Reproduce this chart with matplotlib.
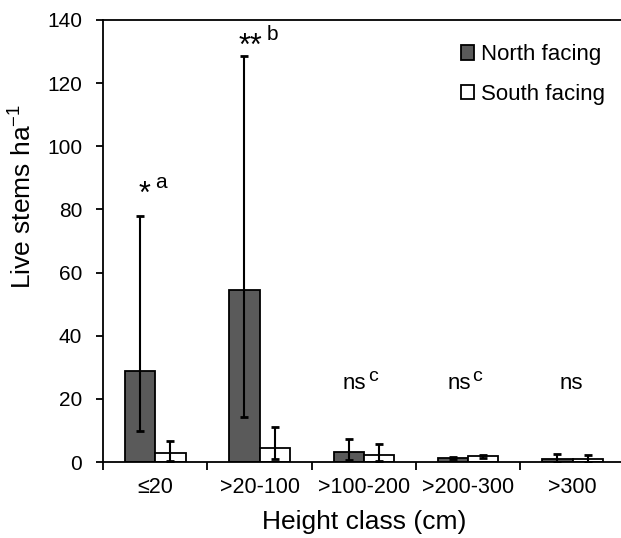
import matplotlib
matplotlib.use("Agg")
import matplotlib.pyplot as plt
import numpy as np

plt.rcParams['font.family'] = ['Liberation Sans', 'DejaVu Sans']
plt.rcParams['mathtext.default'] = 'regular'

classes = ["≤20", ">20-100", ">100-200", ">200-300", ">300"]
north = [29.0, 54.5, 3.1, 1.2, 1.1]
north_lo = [10.0, 14.3, 0.8, 0.9, 0.2]
north_hi = [78.0, 128.5, 7.3, 1.5, 2.5]
south = [2.8, 4.5, 2.2, 1.8, 1.0]
south_lo = [0.5, 1.0, 0.4, 1.4, 0.2]
south_hi = [6.8, 11.0, 5.6, 2.2, 2.3]

stars = ["*", "**", "ns", "ns", "ns"]
letters = ["a", "b", "c", "c", ""]
label_y = [86, 133, 25, 25, 25]

fig = plt.figure(figsize=(6.21, 5.38), dpi=100)
ax = fig.add_axes([0.166, 0.141, 0.84, 0.822])

x = np.arange(len(classes)) + 0.5
w = 0.29
nerr = [np.array(north) - np.array(north_lo), np.array(north_hi) - np.array(north)]
serr = [np.array(south) - np.array(south_lo), np.array(south_hi) - np.array(south)]
ax.bar(x - w / 2, north, w, color="#5a5a5a", edgecolor="black", linewidth=1.3, label="North facing", zorder=2)
ax.bar(x + w / 2, south, w, color="white", edgecolor="black", linewidth=1.3, label="South facing", zorder=2)
ax.errorbar(x - w / 2, north, yerr=nerr, fmt="none", ecolor="black", elinewidth=1.5, capsize=3, capthick=2, zorder=3)
ax.errorbar(x + w / 2, south, yerr=serr, fmt="none", ecolor="black", elinewidth=1.5, capsize=3, capthick=2, zorder=3)

for i in range(len(classes)):
    if stars[i].startswith("*"):
        sx = x[i] - 0.1 if len(stars[i]) == 1 else x[i] - 0.09
        ax.text(sx, label_y[i] - 1.5, stars[i], ha="center", va="center", fontsize=22)
        lx = x[i] + 0.0 if len(stars[i]) == 1 else x[i] + 0.07
        ax.text(lx, label_y[i] + 2.5, letters[i], ha="left", va="center", fontsize=15)
    else:
        nx = x[i] - 0.09 if letters[i] else x[i] - 0.01
        ax.text(nx, label_y[i], stars[i], ha="center", va="center", fontsize=16)
        if letters[i]:
            ax.text(x[i] + 0.04, label_y[i] + 2.0, letters[i], ha="left", va="center", fontsize=14)

ax.set_xlim(0, 5.0)
ax.set_ylim(0, 140)
ax.set_yticks(range(0, 141, 20))
ax.set_xticks(np.arange(0, 6))
ax.set_xticklabels([])
ax.set_xticks(x, minor=True)
ax.set_xticklabels(classes, minor=True, fontsize=15.5)
ax.tick_params(axis="x", which="minor", length=0, pad=11)
ax.tick_params(axis="x", which="major", direction="out", length=6, width=1.3)
ax.tick_params(axis="y", direction="out", length=5, width=1.3, labelsize=15, pad=10)
ax.spines["right"].set_visible(False)
for s in ["left", "top", "bottom"]:
    ax.spines[s].set_linewidth(1.3)

ax.set_ylabel("Live stems ha$^{-1}$", fontsize=19)
ax.yaxis.set_label_coords(-0.128, 0.6)
ax.set_xlabel("Height class (cm)", fontsize=19, labelpad=8)
ax.legend(loc="upper right", frameon=False, fontsize=16, handlelength=0.6, handleheight=0.6,
          handletextpad=0.3, labelspacing=0.85, bbox_to_anchor=(1.0, 0.99))

fig.savefig("out.png", dpi=100)
